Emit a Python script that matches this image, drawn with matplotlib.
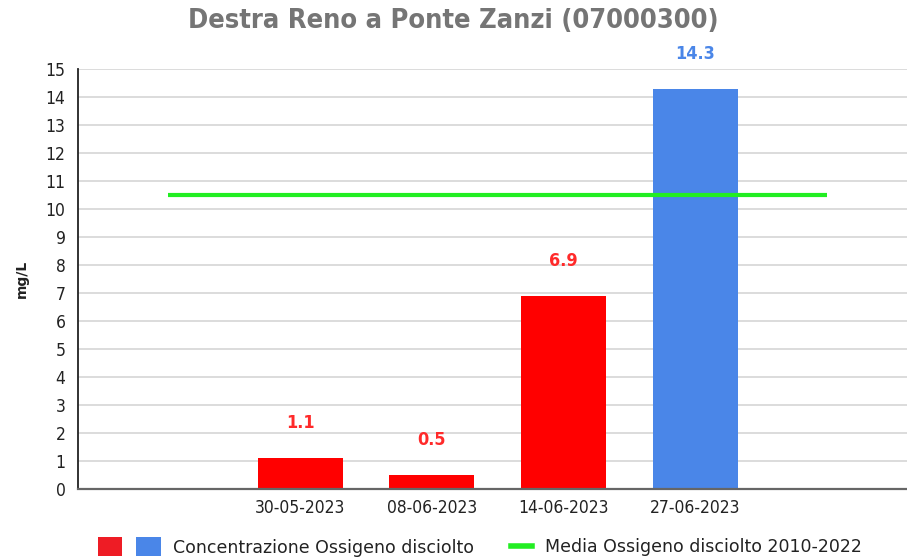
import matplotlib
matplotlib.use('Agg')
import matplotlib.pyplot as plt
from matplotlib.patches import Patch
from matplotlib.lines import Line2D
from matplotlib.legend_handler import HandlerTuple

# data
dates = ['30-05-2023', '08-06-2023', '14-06-2023', '27-06-2023']
values = [1.1, 0.5, 6.9, 14.3]
bar_colors = ['#ff0000', '#ff0000', '#ff0000', '#4a86e8']
label_colors = ['#ff2a2a', '#ff2a2a', '#ff2a2a', '#4a86e8']
media = 10.5
media_span = [-1, 4]

fig = plt.figure(figsize=(9.07, 5.59), dpi=100)
ax = fig.add_axes([0.086, 0.1252, 0.914, 0.7514])

x = list(range(len(dates)))
ax.bar(x, values, width=0.645, color=bar_colors, zorder=3)
ax.plot(media_span, [media, media], color='#22ee22', lw=3, zorder=4,
        solid_capstyle='butt')

# value labels above bars
for xi, v, c in zip(x, values, label_colors):
    ax.annotate(f'{v}', (xi, v), xytext=(0, 35), textcoords='offset pixels',
                ha='center', va='center', color=c, fontsize=13,
                fontweight='bold', fontstretch='condensed', zorder=5)

ax.set_xlim(-1.686, 4.609)
ax.set_ylim(0, 15)
ax.set_yticks(range(0, 16))
ax.set_xticks(x)
ax.set_xticklabels(dates)
ax.tick_params(axis='both', length=0, labelsize=12.5, colors='#222222')
for lab in ax.get_xticklabels() + ax.get_yticklabels():
    lab.set_fontstretch('condensed')
ax.tick_params(axis='y', pad=9)
ax.tick_params(axis='x', pad=7)

ax.grid(axis='y', color='#d9d9d9', lw=1.3, zorder=0)
ax.set_axisbelow(True)
for s in ['top', 'right']:
    ax.spines[s].set_visible(False)
ax.spines['left'].set_color('#222222')
ax.spines['left'].set_linewidth(1.3)
ax.spines['bottom'].set_color('#666666')
ax.spines['bottom'].set_linewidth(1.6)
ax.spines['bottom'].set_zorder(6)

ax.set_ylabel('mg/L', fontsize=10, fontweight='bold', labelpad=12, color='#222222')

fig.text(0.5, 0.962, 'Destra Reno a Ponte Zanzi (07000300)', ha='center', va='center',
         fontsize=19.5, fontweight='bold', color='#757575', fontstretch='condensed')

# legend, two pieces so each handle can have its own length
red_p = Patch(facecolor='#ee1c25', edgecolor='none')
blue_p = Patch(facecolor='#4a86e8', edgecolor='none')
green_l = Line2D([0], [0], color='#22ee22', lw=4)
leg1 = fig.legend([(red_p, blue_p)], ['Concentrazione Ossigeno disciolto'],
                  handler_map={tuple: HandlerTuple(ndivide=None, pad=0.8)},
                  loc='center left', bbox_to_anchor=(98 / 907, 0.0215),
                  frameon=False, fontsize=12.5, handlelength=3.6, handleheight=1.27,
                  handletextpad=0.7, borderpad=0, borderaxespad=0,
                  labelcolor='#222222')
leg2 = fig.legend([green_l], ['Media Ossigeno disciolto 2010-2022'],
                  loc='center left', bbox_to_anchor=(511 / 907, 0.0215),
                  frameon=False, fontsize=12.5, handlelength=1.2,
                  handletextpad=0.75, borderpad=0, borderaxespad=0,
                  labelcolor='#222222')

fig.savefig('out.png', dpi=100)
